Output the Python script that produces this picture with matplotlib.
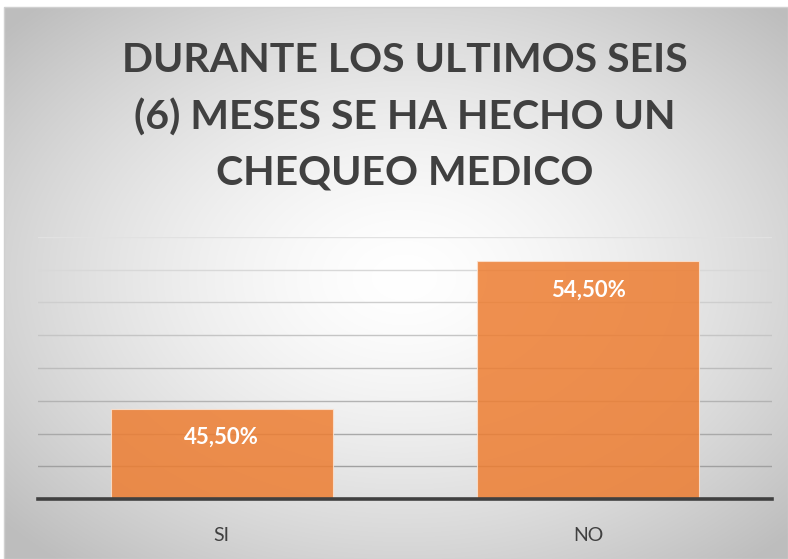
import numpy as np
import matplotlib
matplotlib.use("Agg")
import matplotlib.pyplot as plt
from matplotlib.patches import Rectangle

# data
categories = ["SI", "NO"]
values = [45.5, 54.5]
value_labels = ["45,50%", "54,50%"]
title = "DURANTE LOS ULTIMOS SEIS\n(6) MESES SE HA HECHO UN\nCHEQUEO MEDICO"

W, H = 788, 559
fig = plt.figure(figsize=(W / 100, H / 100), dpi=100)
fig.patch.set_facecolor("white")

# radial gray background of the chart area
bg = fig.add_axes([4 / W, 0, 1 - 4 / W, 1 - 7 / H])
yy, xx = np.mgrid[0:552, 0:784]
cx, cy = 400, 270
r = np.sqrt(((xx - cx) / 392.0) ** 2 + ((yy - cy) / 276.0) ** 2) / np.sqrt(2)
r = np.clip(r * 1.05, 0, 1)
shade = 255 - 65 * r ** 1.5
bg.imshow(np.dstack([shade] * 3) / 255.0, aspect="auto", extent=[0, 1, 0, 1])
bg.set_axis_off()
fig.patches.append(Rectangle((4 / W, 0), 1 - 4 / W, 1 - 7 / H, transform=fig.transFigure,
                             fill=False, edgecolor="#d0d0d0", linewidth=1))

plt.rcParams["font.family"] = ["Lato", "DejaVu Sans"]

ax = fig.add_axes([38.3 / W, (H - 499.3) / H, (771.7 - 38.3) / W, (499.3 - 236.7) / H])
ax.patch.set_alpha(0)
ax.set_xlim(-0.5, 1.5)
ax.set_ylim(40, 56)

# gridlines, lighter at the top
ticks = np.arange(42, 57, 2)
for t in ticks:
    frac = (t - 42) / (56 - 42)
    g = (160 + 65 * frac) / 255.0
    ax.axhline(t, color=(g, g, g), linewidth=1.0, zorder=1)

x = np.arange(len(categories))
ax.bar(x, values, width=0.605, bottom=0, color="#ED7D31", alpha=0.85,
       edgecolor="#fbe2d0", linewidth=0.8, zorder=2)

for xi, v, lab in zip(x, values, value_labels):
    ax.annotate(lab, xy=(xi, v), xytext=(0, -20.5), textcoords="offset points",
                ha="center", va="center", color="white", fontsize=16,
                fontweight="bold", zorder=3)

for s in ["top", "left", "right"]:
    ax.spines[s].set_visible(False)
ax.spines["bottom"].set_color("#404040")
ax.spines["bottom"].set_linewidth(2.6)
ax.spines["bottom"].set_zorder(4)
ax.set_yticks([])
ax.set_xticks(x, categories)
ax.tick_params(axis="x", length=0, pad=20, labelsize=14, labelcolor="#404040")

fig.text(405 / W, 1 - 117 / H, title, ha="center", va="center", fontsize=29.5,
         fontweight="bold", color="#404040", linespacing=1.62)

fig.savefig("out.png", dpi=100)
